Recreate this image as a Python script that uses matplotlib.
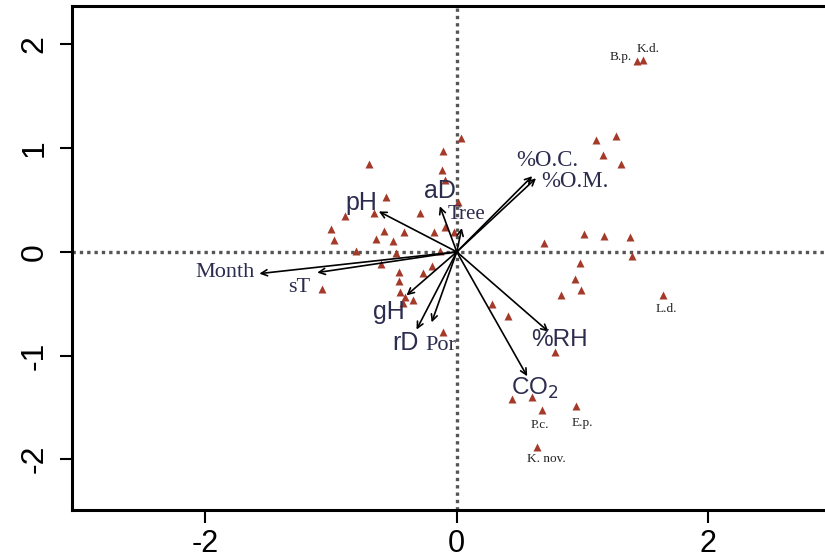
import matplotlib
matplotlib.use("Agg")
import matplotlib.pyplot as plt

# Site scores (triangles)
pts_x = [1.43, 1.48, 1.105, 1.27, 1.16, 1.31, 0.69, 1.01, 1.17, 1.38, 1.39, 0.98,
         0.94, 0.99, 0.83, 1.64, 0.28, 0.41, 0.78, 0.44, 0.60, 0.68, 0.95, 0.64,
         0.03, -0.11, -0.70, -0.12, -0.095, -0.56, 0.01, -0.29, -0.66, -0.89, -1.0,
         -0.58, -0.42, -0.18, -0.095, -0.02, -0.98, -0.64, -0.51, -0.80, -0.48,
         -0.13, -0.60, -0.46, -0.27, -0.20, -1.07, -0.46, -0.45, -0.41, -0.35,
         -0.43, -0.11]
pts_y = [1.84, 1.85, 1.08, 1.12, 0.935, 0.85, 0.087, 0.17, 0.15, 0.145, -0.04, -0.11,
         -0.26, -0.37, -0.42, -0.42, -0.5, -0.62, -0.97, -1.42, -1.40, -1.53, -1.49, -1.88,
         1.10, 0.97, 0.85, 0.79, 0.69, 0.53, 0.48, 0.37, 0.37, 0.35, 0.22,
         0.20, 0.19, 0.19, 0.24, 0.19, 0.11, 0.125, 0.10, 0.01, -0.01,
         0.01, -0.12, -0.19, -0.2, -0.14, -0.36, -0.28, -0.39, -0.44, -0.46,
         -0.49, -0.77]

# Environmental vectors
vec_names = ["Month", "sT", "pH", "aD", "Tree", "%O.C.", "%O.M.", "gH", "rD", "Por", "%RH", "CO$_2$"]
vec_x = [-1.57, -1.11, -0.62, -0.135, 0.04, 0.60, 0.63, -0.40, -0.32, -0.20, 0.73, 0.56]
vec_y = [-0.21, -0.20, 0.39, 0.44, 0.23, 0.73, 0.71, -0.42, -0.75, -0.68, -0.77, -1.20]
vec_lab_x = [-1.845, -1.25, -0.755, -0.135, 0.08, 0.72, 0.94, -0.54, -0.41, -0.13, 0.82, 0.62]
vec_lab_y = [-0.20, -0.34, 0.47, 0.59, 0.36, 0.88, 0.68, -0.58, -0.88, -0.90, -0.85, -1.32]
vec_serif = [True, True, False, False, True, True, True, False, False, True, False, False]
vec_size = [16, 16, 18, 18, 15, 16.5, 16.5, 18, 18, 16, 17.5, 17.5]

# Species labels
sp_names = ["B.p.", "K.d.", "L.d.", "P.c.", "E.p.", "K. nov."]
sp_x = [1.30, 1.52, 1.67, 0.66, 1.00, 0.71]
sp_y = [1.88, 1.96, -0.55, -1.67, -1.65, -2.00]

xticks = [-2, 0, 2]
yticks = [-2, -1, 0, 1, 2]

fig = plt.figure(figsize=(8.25, 5.58), dpi=100)
ax = fig.add_axes([0.0873, 0.086, 0.9236, 0.903])
ax.set_xlim(-3.06, 3.0)
ax.set_ylim(-2.49, 2.37)

ax.axhline(0, color="#555555", ls=(0, (1, 1.2)), lw=2.4, zorder=1)
ax.axvline(0, color="#555555", ls=(0, (1, 1.2)), lw=2.4, zorder=1)

ax.plot(pts_x, pts_y, ls="none", marker="^", ms=6, color="#A43A2A", mec="none", zorder=2)

for n, vx, vy, lx, ly, serif, sz in zip(vec_names, vec_x, vec_y, vec_lab_x, vec_lab_y, vec_serif, vec_size):
    ax.annotate("", xy=(vx, vy), xytext=(0, 0),
                arrowprops=dict(arrowstyle="->", lw=1.2, color="black",
                                mutation_scale=11, shrinkA=0, shrinkB=0), zorder=3)
    fam = "Liberation Serif" if serif else "Liberation Sans"
    ax.text(lx, ly, n, family=fam, fontsize=sz, color="#2c2c4e",
            ha="center", va="center", zorder=4)

for n, sx, sy in zip(sp_names, sp_x, sp_y):
    ax.text(sx, sy, n, family="Liberation Serif", fontsize=9.5, color="#222222",
            ha="center", va="center", zorder=4)

ax.set_xticks(xticks)
ax.set_yticks(yticks)
ax.set_xticklabels([str(t) for t in xticks], family="Liberation Sans", fontsize=22)
ax.set_yticklabels([str(t) for t in yticks], family="Liberation Sans", fontsize=23,
                   rotation=90, va="center")
ax.tick_params(length=9, width=1.5, pad=5)
ax.tick_params(axis="y", pad=7)
for s in ax.spines.values():
    s.set_linewidth(2.2)

fig.savefig("out.png", dpi=100)
